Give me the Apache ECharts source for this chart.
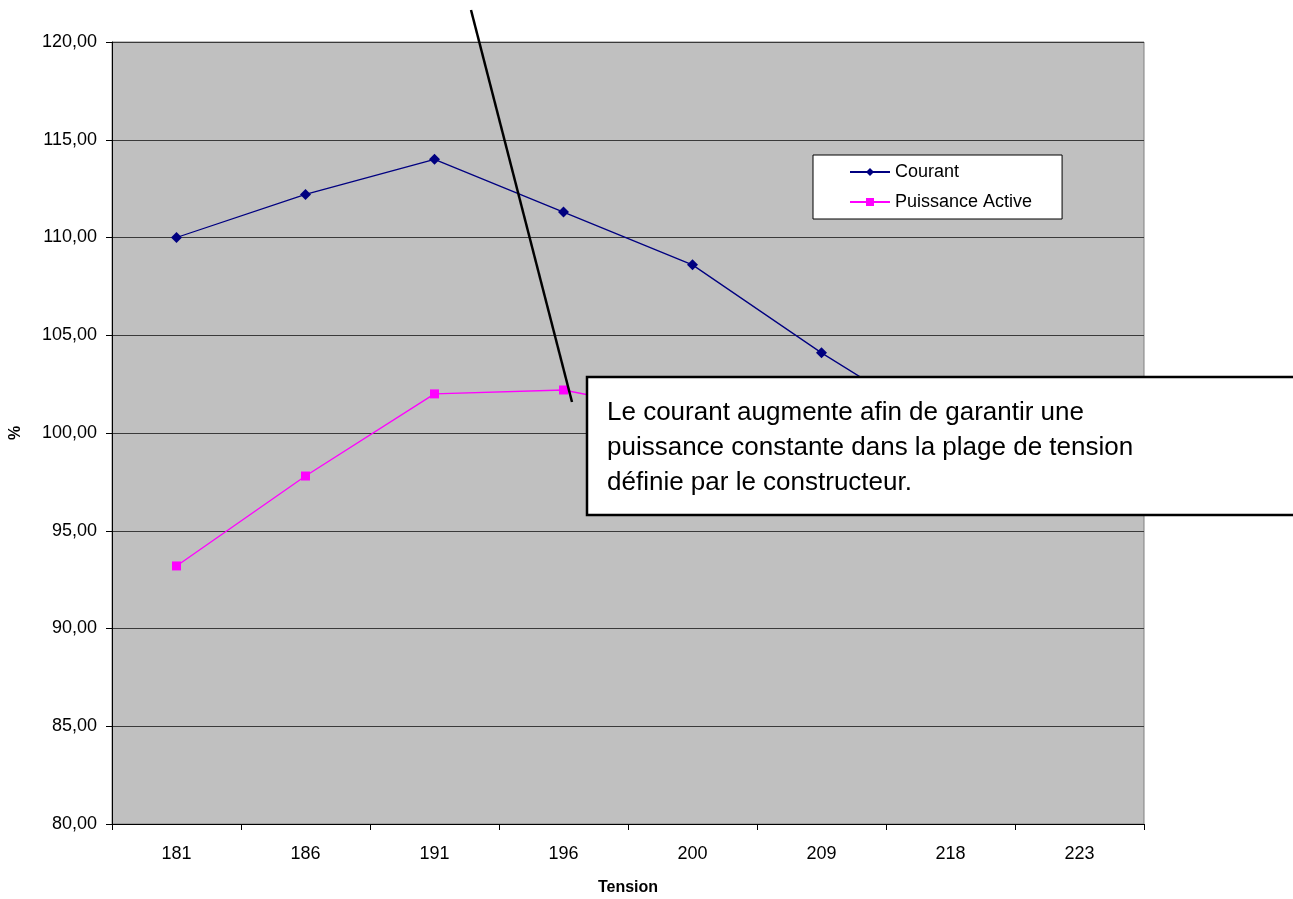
<!DOCTYPE html>
<html>
<head>
<meta charset="utf-8">
<script src="https://cdn.jsdelivr.net/npm/echarts@6/dist/echarts.min.js"></script>
<style>
html,body{margin:0;padding:0;background:#fff;}
#c{width:1293px;height:899px;}
</style>
</head>
<body>
<div id="c"></div>
<script>
const categories = ['181', '186', '191', '196', '200', '209', '218', '223'];
const courant = [110.0, 112.2, 114.0, 111.3, 108.6, 104.1, 100.0, 98.0];
const puissance = [93.2, 97.8, 102.0, 102.2, 100.9, 100.5, 100.2, 100.0];
const yTicks = { min: 80, max: 120, interval: 5 };
const annotationLines = [
  'Le courant augmente afin de garantir une',
  'puissance constante dans la plage de tension',
  'définie par le constructeur.'
];

const FONT = '"Liberation Sans", Arial, sans-serif';
const chart = echarts.init(document.getElementById('c'));
chart.setOption({
  animation: false,
  textStyle: { fontFamily: FONT },
  grid: {
    left: 112, right: 149, top: 42, bottom: 75,
    containLabel: false, outerBoundsMode: 'none',
    show: true, backgroundColor: '#C0C0C0', borderColor: '#808080', borderWidth: 1
  },
  legend: {
    orient: 'vertical',
    left: 813, top: 155,
    padding: [8, 30, 8, 36],
    itemGap: 12,
    itemWidth: 40, itemHeight: 10,
    backgroundColor: '#fff', borderColor: '#000', borderWidth: 1,
    textStyle: { fontSize: 18, color: '#000', fontFamily: FONT },
    data: ['Courant', 'Puissance Active']
  },
  xAxis: {
    type: 'category',
    data: categories,
    boundaryGap: true,
    name: 'Tension',
    nameLocation: 'middle',
    nameGap: 56,
    nameTextStyle: { fontWeight: 'bold', fontSize: 16, color: '#000' },
    axisLine: { lineStyle: { color: '#000', width: 1 } },
    axisTick: { show: true, alignWithLabel: false, length: 6, lineStyle: { color: '#000' } },
    axisLabel: { color: '#000', fontSize: 18, margin: 21 },
    splitLine: { show: false }
  },
  yAxis: {
    type: 'value',
    min: yTicks.min, max: yTicks.max, interval: yTicks.interval,
    name: '%',
    nameLocation: 'middle',
    nameGap: 88,
    nameTextStyle: { fontWeight: 'bold', fontSize: 16, color: '#000' },
    axisLine: { show: true, lineStyle: { color: '#000', width: 1 } },
    axisTick: { show: true, length: 6, lineStyle: { color: '#000' } },
    axisLabel: {
      color: '#000', fontSize: 18, margin: 15,
      formatter: v => v.toFixed(2).replace('.', ',')
    },
    splitLine: { show: true, lineStyle: { color: '#3a3a3a', width: 1 } }
  },
  series: [
    {
      name: 'Courant', type: 'line', data: courant,
      symbol: 'diamond', symbolSize: 11,
      lineStyle: { color: '#000080', width: 1.3 },
      itemStyle: { color: '#000080' },
      z: 3
    },
    {
      name: 'Puissance Active', type: 'line', data: puissance,
      symbol: 'rect', symbolSize: 9,
      lineStyle: { color: '#FF00FF', width: 1.3 },
      itemStyle: { color: '#FF00FF' },
      z: 3
    }
  ],
  graphic: [
    {
      type: 'line', z: 100,
      shape: { x1: 471, y1: 10, x2: 572, y2: 402 },
      style: { stroke: '#000', lineWidth: 2.5 }
    },
    {
      type: 'rect', z: 101,
      shape: { x: 587, y: 377, width: 720, height: 138 },
      style: { fill: '#fff', stroke: '#000', lineWidth: 2.5 }
    },
    {
      type: 'text', z: 102,
      x: 607, y: 395,
      style: {
        text: annotationLines.join('\n'),
        font: '26px ' + FONT,
        fill: '#000',
        lineHeight: 35
      }
    }
  ]
});
</script>
</body>
</html>
